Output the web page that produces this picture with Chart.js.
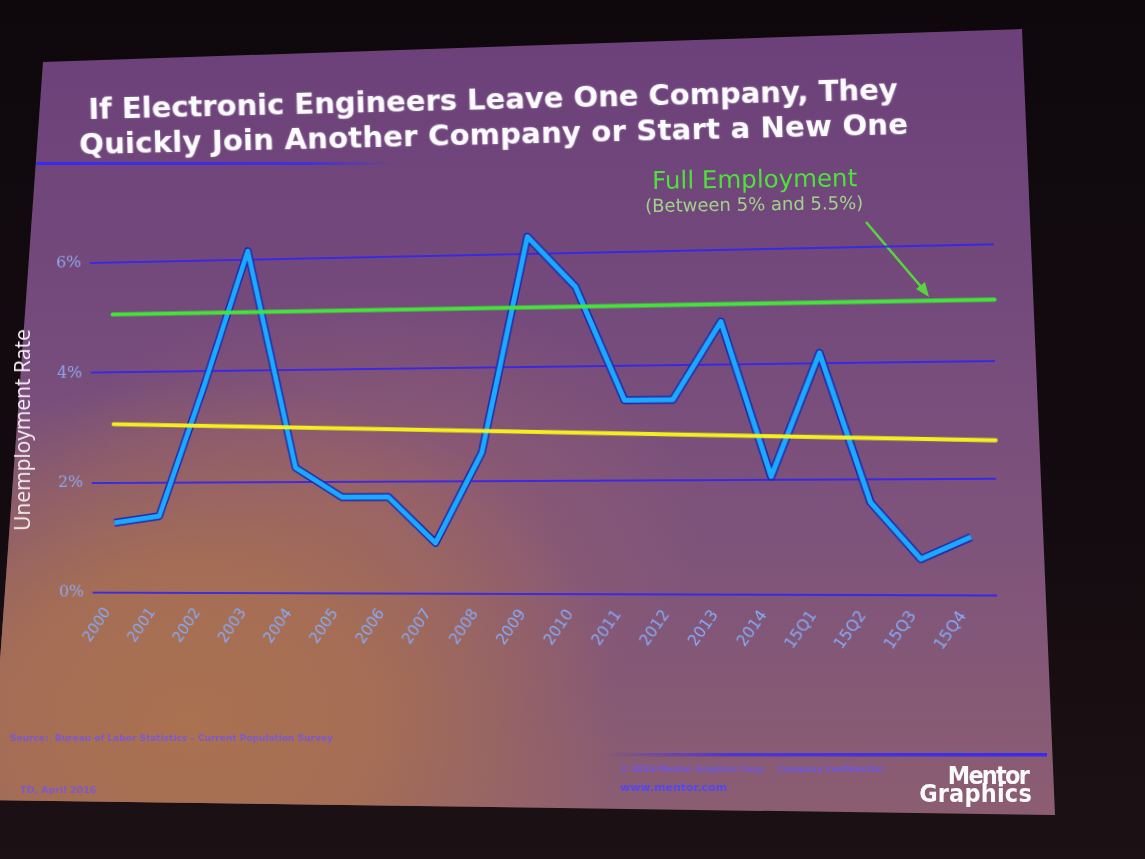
<!DOCTYPE html>
<html>
<head>
<meta charset="utf-8">
<script src="https://cdn.jsdelivr.net/npm/chart.js@4.4.1/dist/chart.umd.min.js"></script>
<style>
html,body{margin:0;padding:0;width:1145px;height:859px;overflow:hidden;background:#140b10;}
#room{position:absolute;left:0;top:0;width:1145px;height:859px;
  background:linear-gradient(180deg,#0e080c 0%,#140b10 60%,#1c1114 100%);}
#slide{position:absolute;left:0;top:0;width:1145px;height:859px;
  clip-path:polygon(43px 62px,1022px 29px,1055px 815px,-10px 800px);
  background:
    radial-gradient(ellipse 430px 340px at 190px 720px, rgba(170,114,80,1) 0%, rgba(166,110,84,0.95) 45%, rgba(160,105,92,0) 100%),
    radial-gradient(ellipse 330px 230px at 370px 520px, rgba(165,105,100,0.55) 0%, rgba(165,105,100,0) 100%),
    linear-gradient(180deg,#6b3f79 0%,#744a7c 35%,#7e537b 62%,#8e5f70 100%);}
#wrap{position:absolute;left:0;top:0;width:1145px;height:859px;
  transform-origin:540px 424px;
  transform:translateX(-14px) perspective(1500px) rotateZ(-0.5deg) rotateY(-6deg);}
.txt{position:absolute;white-space:nowrap;}
#title{left:88px;top:92px;font:bold 29px "DejaVu Sans",sans-serif;color:#fbfbff;line-height:35px;
  transform:rotate(-1.4deg);transform-origin:0 0;text-shadow:0 0 2px rgba(255,255,255,0.35);}
#title .l2{margin-left:-10px;letter-spacing:0.25px;}
#ytitle{left:22px;top:430px;font:21px "Open Sans",sans-serif;color:#f6f0f6;
  transform:translate(-50%,-50%) rotate(-90deg);}
#fe1{left:652px;top:166px;font:24.5px "DejaVu Sans",sans-serif;color:#4fe03e;transform:rotate(-0.8deg);transform-origin:0 0;}
#fe2{left:645px;top:195px;font:18px "DejaVu Sans",sans-serif;color:#a3d08c;transform:rotate(-0.8deg);transform-origin:0 0;}
.foot{filter:blur(0.5px);}
#src{left:10px;top:733px;font:bold 9px "DejaVu Sans",sans-serif;color:#7456e8;opacity:0.85;}
#date{left:20px;top:784px;font:bold 9.5px "DejaVu Sans",sans-serif;color:#7456e8;opacity:0.8;}
#copy{left:620px;top:764px;font:bold 8.5px "DejaVu Sans",sans-serif;color:#6c56f0;opacity:0.9;}
#web{left:620px;top:781px;font:bold 11px "DejaVu Sans",sans-serif;color:#5448f2;}
#logo{left:900px;top:767px;width:132px;text-align:right;font:bold 25px "DejaVu Sans Condensed","DejaVu Sans",sans-serif;
  color:#fafafa;line-height:18px;}
#logo .m{letter-spacing:-1.8px;padding-right:4px;}
#logo .g{letter-spacing:0.2px;}
svg{position:absolute;left:0;top:0;}
</style>
</head>
<body>
<div id="room"></div>
<div id="slide"></div>
<svg width="1145" height="859">
  <defs>
    <linearGradient id="fadeR" x1="0" x2="1" y1="0" y2="0">
      <stop offset="0" stop-color="#3a2af0" stop-opacity="1"/>
      <stop offset="0.75" stop-color="#3a2af0" stop-opacity="0.8"/>
      <stop offset="1" stop-color="#3a2af0" stop-opacity="0"/>
    </linearGradient>
    <linearGradient id="fadeL" x1="0" x2="1" y1="0" y2="0">
      <stop offset="0" stop-color="#3a2af0" stop-opacity="0"/>
      <stop offset="0.3" stop-color="#3a2af0" stop-opacity="0.75"/>
      <stop offset="1" stop-color="#3a2af0" stop-opacity="1"/>
    </linearGradient>
  </defs>
  <rect x="36" y="162" width="360" height="3" fill="url(#fadeR)"/>
  <rect x="600" y="753" width="447" height="3.5" fill="url(#fadeL)"/>
  <line x1="866" y1="222" x2="923" y2="289" stroke="#58d43f" stroke-width="2.5"/>
  <polygon points="929,297 916,289 925,282" fill="#58d43f"/>
</svg>
<div id="wrap"><canvas id="c" width="1145" height="859"></canvas></div>
<div id="title" class="txt">If Electronic Engineers Leave One Company, They<br><span class="l2">Quickly Join Another Company or Start a New One</span></div>
<div id="ytitle" class="txt">Unemployment Rate</div>
<div id="fe1" class="txt">Full Employment</div>
<div id="fe2" class="txt">(Between 5% and 5.5%)</div>
<div id="src" class="txt foot">Source:&nbsp; Bureau of Labor Statistics – Current Population Survey</div>
<div id="date" class="txt foot">TD, April 2016</div>
<div id="copy" class="txt foot">© 2016 Mentor Graphics Corp.&nbsp;&nbsp;&nbsp; Company Confidential</div>
<div id="web" class="txt foot">www.mentor.com</div>
<div id="logo" class="txt"><div class="m">Mentor</div><div class="g">Graphics</div></div>
<script>
// ---- data ----
const years = ['2000','2001','2002','2003','2004','2005','2006','2007','2008','2009','2010','2011','2012','2013','2014','15Q1','15Q2','15Q3','15Q4'];
const unemploymentRate = [1.27, 1.39, 3.7, 6.15, 2.25, 1.72, 1.72, 0.9, 2.5, 6.3, 5.4, 3.4, 3.4, 4.75, 2.05, 4.18, 1.6, 0.62, 1.0];
const fullEmploymentRate = 5.05;
const trendStart = 3.06;
const trendEnd = 2.65;
const yTickValues = [0, 2, 4, 6];
const yMax = 7;

// reference lines drawn through the chart's own scales
const refLines = {
  id: 'refLines',
  afterDatasetsDraw(chart) {
    const {ctx, chartArea, scales} = chart;
    const x0 = scales.x.getPixelForValue(0);
    const x1 = chartArea.right;
    ctx.save();
    ctx.lineCap = 'round';
    ctx.lineWidth = 4;
    ctx.strokeStyle = '#44e23a';
    ctx.beginPath();
    ctx.moveTo(x0, scales.y.getPixelForValue(fullEmploymentRate));
    ctx.lineTo(x1, scales.y.getPixelForValue(fullEmploymentRate));
    ctx.stroke();
    ctx.strokeStyle = '#f4f01e';
    ctx.beginPath();
    ctx.moveTo(x0, scales.y.getPixelForValue(trendStart));
    ctx.lineTo(x1, scales.y.getPixelForValue(trendEnd));
    ctx.stroke();
    ctx.restore();
  }
};

new Chart(document.getElementById('c'), {
  type: 'line',
  data: {
    labels: years,
    datasets: [
      { label: 'Unemployment Rate', data: unemploymentRate, borderColor: '#1aaaff', borderWidth: 5,
        borderJoinStyle: 'round', pointRadius: 0, tension: 0, fill: false },
      { label: 'outline', data: unemploymentRate, borderColor: '#2424a8', borderWidth: 8,
        borderJoinStyle: 'round', pointRadius: 0, tension: 0, fill: false }
    ]
  },
  options: {
    responsive: false,
    animation: false,
    devicePixelRatio: 1,
    layout: { padding: { left: 9, right: 148, top: 197, bottom: 180 } },
    plugins: { legend: { display: false }, tooltip: { enabled: false } },
    scales: {
      x: {
        offset: true,
        grid: { display: false },
        border: { display: false },
        afterFit(s) { s.height = 85; },
        ticks: {
          color: '#86aaf6',
          font: { family: 'DejaVu Sans', size: 15.5 },
          minRotation: 55, maxRotation: 55,
          padding: 4,
          labelOffset: -8,
          autoSkip: false
        }
      },
      y: {
        min: 0, max: yMax,
        afterFit(s) { s.width = 80; },
        afterBuildTicks(axis) { axis.ticks = yTickValues.map(v => ({ value: v })); },
        border: { display: false },
        grid: { color: 'rgba(52,36,236,0.9)', lineWidth: 2, drawTicks: false },
        ticks: {
          color: '#8ea6ea',
          font: { family: 'DejaVu Serif', size: 17 },
          padding: 9,
          callback: v => v + '%'
        },
        title: { display: false, text: 'Unemployment Rate' }
      }
    }
  },
  plugins: [refLines]
});
</script>
</body>
</html>
